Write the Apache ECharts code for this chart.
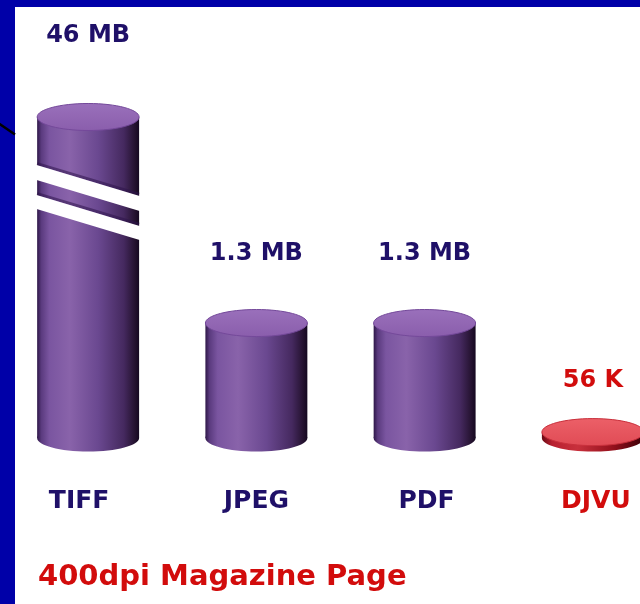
<!DOCTYPE html>
<html>
<head>
<meta charset="utf-8">
<script src="https://cdn.jsdelivr.net/npm/echarts@6/dist/echarts.min.js"></script>
<style>
  html, body { margin: 0; padding: 0; background: #0000a8; }
  #chart { width: 640px; height: 604px; }
</style>
</head>
<body>
<div id="chart"></div>
<script>
// File size of one 400 dpi magazine page, per format (in MB)
const categories = ['TIFF', 'JPEG', 'PDF', 'DJVU'];
const sizesMB = [46, 1.3, 1.3, 0.056];
// The tall TIFF column is drawn through a broken value axis
const axisBreak = { start: 2.5, end: 45.2, gap: 0.35 };

const NAVY = '#1f1068';
const RED = '#d20c0c';

// Cylinder colour sets: purple for the large formats, red for DjVu
const palettes = {
  purple: {
    body: [
      { offset: 0, color: '#2e1748' },
      { offset: 0.04, color: '#5a3a7e' },
      { offset: 0.12, color: '#7a55a0' },
      { offset: 0.32, color: '#8963aa' },
      { offset: 0.6, color: '#6a4890' },
      { offset: 0.85, color: '#45295f' },
      { offset: 0.96, color: '#24122f' },
      { offset: 1, color: '#150820' }
    ],
    top: ['#9a70bb', '#8a5eac'],
    rim: '#74499a',
    label: NAVY
  },
  red: {
    body: [
      { offset: 0, color: '#6a0a14' },
      { offset: 0.1, color: '#b82030' },
      { offset: 0.35, color: '#c8303c' },
      { offset: 0.7, color: '#94101c' },
      { offset: 1, color: '#3a0008' }
    ],
    top: ['#ec6068', '#e04b55'],
    rim: '#c9303c',
    label: RED
  }
};
const itemPalette = ['purple', 'purple', 'purple', 'red'];
// distance from the top face to the value label, per column
const labelLift = [81, 69, 69, 51];
// horizontal nudge of the category names (label padding right/left)
const namePad = [[0, 18, 0, 0], 0, [0, 0, 0, 4], [0, 0, 0, 6]];

function formatSize(v) {
  return v >= 1 ? v + ' MB' : Math.round(v * 1000) + ' K';
}

function renderCylinder(params, api) {
  const i = params.dataIndex;
  const v = api.value(1);
  const base = api.coord([i, 0]);
  const top = api.coord([i, v]);
  const bw = api.size([1, 0])[0];
  const rx = bw * 0.303;
  const ry = rx * 0.265;
  const cx = base[0], yb = base[1], yt = top[1];
  const pal = palettes[itemPalette[i]];
  const bodyFill = new echarts.graphic.LinearGradient(0, 0, 1, 0, pal.body);
  const topFill = new echarts.graphic.LinearGradient(0, 0, 0, 1, [
    { offset: 0, color: pal.top[0] },
    { offset: 1, color: pal.top[1] }
  ]);
  const children = [
    { type: 'ellipse', shape: { cx: cx, cy: yb + 1, rx: rx, ry: ry }, style: { fill: bodyFill } },
    { type: 'rect', shape: { x: cx - rx, y: yt, width: 2 * rx, height: yb + 1 - yt }, style: { fill: bodyFill } }
  ];

  // diagonal cut marks where the column crosses the axis break
  if (v > axisBreak.end) {
    const yS = api.coord([i, axisBreak.start])[1];
    const yE = api.coord([i, axisBreak.end])[1];
    const c = (yS + yE) / 2;
    const k = 0.3;
    const x0 = cx - rx - 3, x1 = cx + rx + 3;
    const yAt = function (x, off) { return c + k * (x - cx) + off; };
    const band = function (a, b) {
      return {
        type: 'polygon',
        shape: { points: [[x0, yAt(x0, a)], [x1, yAt(x1, a)], [x1, yAt(x1, b)], [x0, yAt(x0, b)]] },
        style: { fill: '#ffffff' }
      };
    };
    const edge = function (off) {
      return {
        type: 'line',
        shape: { x1: cx - rx, y1: yAt(cx - rx, off), x2: cx + rx, y2: yAt(cx + rx, off) },
        style: { stroke: 'rgba(45,20,75,0.55)', lineWidth: 3 }
      };
    };
    children.push(edge(-23.5), edge(6.5), band(-22, -7), band(8, 22));
  }

  children.push(
    { type: 'ellipse', shape: { cx: cx, cy: yt, rx: rx, ry: ry }, style: { fill: topFill, stroke: pal.rim, lineWidth: 1 } },
    {
      type: 'text',
      style: {
        text: formatSize(v),
        x: cx, y: yt - labelLift[i],
        align: 'center', verticalAlign: 'middle',
        fill: pal.label,
        font: 'bold 24px "DejaVu Sans"'
      }
    }
  );
  return { type: 'group', children: children };
}

const chart = echarts.init(document.getElementById('chart'), null, { renderer: 'canvas' });
chart.setOption({
  backgroundColor: '#0000a8',
  animation: false,
  graphic: {
    elements: [
      { type: 'rect', z: 0, shape: { x: 15, y: 7, width: 625, height: 597 }, style: { fill: '#ffffff' } },
      { type: 'line', z: 0, shape: { x1: -2, y1: 123, x2: 15, y2: 134.5 }, style: { stroke: '#000000', lineWidth: 2.5 } }
    ]
  },
  title: {
    text: '400dpi Magazine Page',
    left: 38,
    top: 563,
    padding: 0,
    textStyle: { color: RED, fontSize: 29, fontWeight: 'bold', fontFamily: 'DejaVu Sans' }
  },
  grid: { left: 4, right: -37, top: 117, bottom: 167, outerBoundsMode: 'none', containLabel: false },
  xAxis: {
    type: 'category',
    data: categories.map(function (c, i) {
      return {
        value: c,
        textStyle: { color: itemPalette[i] === 'red' ? RED : NAVY, padding: namePad[i] }
      };
    }),
    axisLine: { show: false },
    axisTick: { show: false },
    splitLine: { show: false },
    axisLabel: { margin: 52, fontSize: 25, fontWeight: 'bold', fontFamily: 'DejaVu Sans', color: NAVY }
  },
  yAxis: {
    type: 'value',
    min: 0,
    max: 46,
    show: false,
    splitLine: { show: false },
    breaks: [axisBreak],
    breakArea: { show: false }
  },
  series: [{
    type: 'custom',
    renderItem: renderCylinder,
    data: sizesMB.map(function (v, i) { return [i, v]; })
  }]
});
</script>
</body>
</html>
